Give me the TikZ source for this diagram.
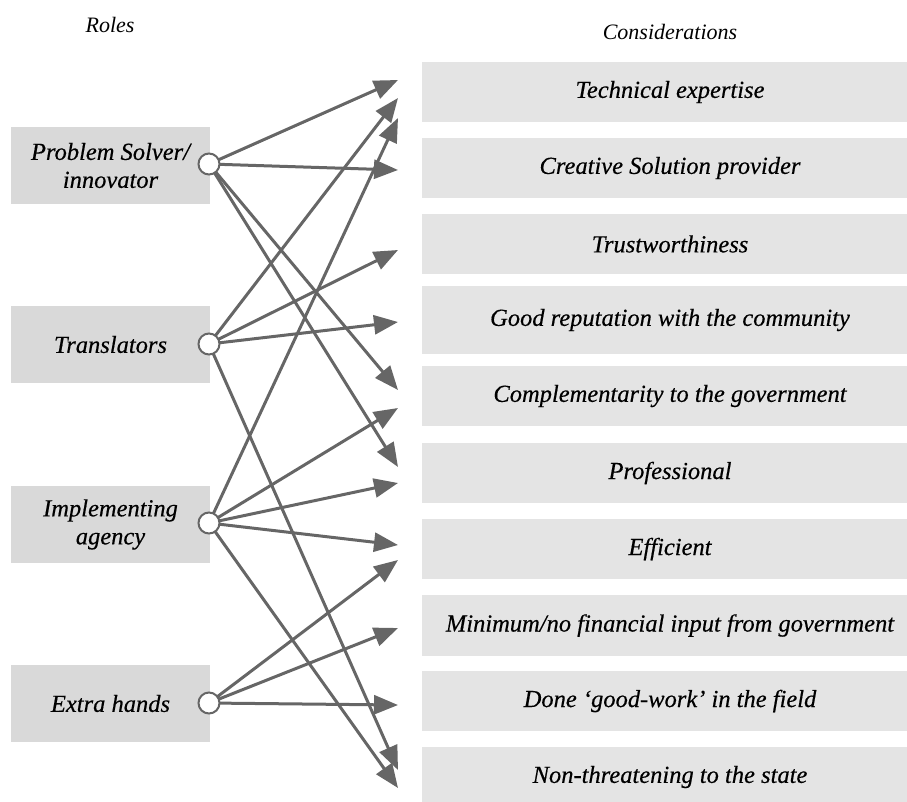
\documentclass[tikz,border=0pt]{standalone}
\usepackage{fontspec}
\setmainfont{Liberation Serif}
\newfontfamily\boxfont[FakeBold=0.4]{Liberation Serif}
\usetikzlibrary{arrows.meta}
\definecolor{leftfill}{HTML}{D9D9D9}
\definecolor{rightfill}{HTML}{E4E4E4}
\definecolor{arrowgray}{HTML}{666666}
\pgfdeclarelayer{bg}
\pgfsetlayers{bg,main}
\begin{document}
\begin{tikzpicture}[x=1pt,y=-1pt,
  rolebox/.style={fill=leftfill, minimum width=199pt, minimum height=77pt, inner sep=0pt, align=center, font=\boxfont\fontsize{24.5}{28}\selectfont\itshape},
  consbox/.style={fill=rightfill, minimum width=496pt, inner sep=0pt, align=center, font=\boxfont\fontsize{24.5}{28}\selectfont\itshape},
  hub/.style={circle, draw=arrowgray, fill=white, line width=2pt, minimum size=21pt, inner sep=0pt},
  link/.style={draw=arrowgray, line width=3pt, -{Triangle[length=24pt,width=19pt]}},
  heading/.style={font=\fontsize{22}{26}\selectfont\itshape}]
\useasboundingbox (0,0) rectangle (907,801);

% headings
\node[heading] (hroles) at (110,25) {Roles};
\node[heading] (hcons) at (670,32) {Considerations};

% role boxes
\node[rolebox] (r1) at (110.5,165.5) {Problem Solver/\\innovator};
\node[rolebox] (r2) at (110.5,344.5) {Translators};
\node[rolebox] (r3) at (110.5,524.5) {Implementing\\agency};
\node[rolebox] (r4) at (110.5,703.5) {Extra hands};

% consideration boxes
\node[consbox, minimum height=60pt] (c1) at (670,92) {Technical expertise};
\node[consbox, minimum height=60pt] (c2) at (670,168) {Creative Solution provider};
\node[consbox, minimum height=60pt] (c3) at (670,244) {Trustworthiness};
\node[consbox, minimum height=68pt] (c4) at (670,320) {Good reputation with the community};
\node[consbox, minimum height=60pt] (c5) at (670,396) {Complementarity to the government};
\node[consbox, minimum height=60pt] (c6) at (670,473) {Professional};
\node[consbox, minimum height=60pt] (c7) at (670,549) {Efficient};
\node[consbox, minimum height=61pt] (c8) at (670,625.5) {Minimum/no financial input from government};
\node[consbox, minimum height=60pt] (c9) at (670,701) {Done ‘good-work’ in the field};
\node[consbox, minimum height=60pt] (c10) at (670,777) {Non-threatening to the state};

% hubs
\node[hub] (h1) at (209,164) {};
\node[hub] (h2) at (209,344) {};
\node[hub] (h3) at (209,523) {};
\node[hub] (h4) at (209,703) {};

% arrow tips
\foreach \y in {80,98,118,170,250,322,390,408,467,483,545,560,628,705,770,788}
  \coordinate (t\y) at (398,\y);

\begin{pgfonlayer}{bg}
\draw[link] (h1.center) -- (t80);
\draw[link] (h1.center) -- (t170);
\draw[link] (h1.center) -- (t390);
\draw[link] (h1.center) -- (t467);
\draw[link] (h2.center) -- (t98);
\draw[link] (h2.center) -- (t250);
\draw[link] (h2.center) -- (t322);
\draw[link] (h2.center) -- (t770);
\draw[link] (h3.center) -- (t118);
\draw[link] (h3.center) -- (t408);
\draw[link] (h3.center) -- (t483);
\draw[link] (h3.center) -- (t545);
\draw[link] (h3.center) -- (t788);
\draw[link] (h4.center) -- (t560);
\draw[link] (h4.center) -- (t628);
\draw[link] (h4.center) -- (t705);
\end{pgfonlayer}
\end{tikzpicture}
\end{document}
